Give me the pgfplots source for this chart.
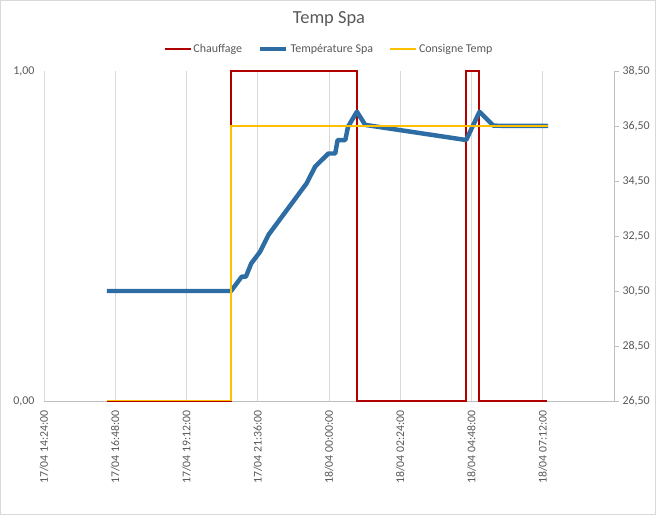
\documentclass[border=0pt]{standalone}
\usepackage{fontspec}
\setmainfont{Carlito}
\usepackage{pgfplots}
\pgfplotsset{compat=1.18}
\definecolor{txt}{HTML}{595959}
\definecolor{gridc}{HTML}{D9D9D9}
\definecolor{axc}{HTML}{BFBFBF}
\definecolor{cred}{HTML}{B00000}
\definecolor{cblue}{HTML}{2E6DA4}
\definecolor{cyel}{HTML}{FFC000}
\begin{document}
\begin{tikzpicture}
\pgfplotsset{
  common/.style={
    width=570bp, height=330bp, scale only axis,
    xmin=14.4, xmax=33.6,
    /pgf/number format/assume math mode=true,
    tick label style={font=\fontsize{12}{14}\selectfont, text=txt},
  }
}
\begin{axis}[common,
  axis x line*=bottom, axis y line*=left,
  x axis line style={draw=axc, line width=0.8pt},
  y axis line style={draw=gridc, line width=0.8pt},
  xtick={14.4,16.8,19.2,21.6,24,26.4,28.8,31.2},
  xticklabels={17/04 14:24:00,17/04 16:48:00,17/04 19:12:00,17/04 21:36:00,18/04 00:00:00,18/04 02:24:00,18/04 04:48:00,18/04 07:12:00},
  x tick label style={rotate=90, anchor=east, font=\fontsize{11.8}{13}\selectfont},
  xticklabel shift=6bp,
  yticklabel shift=6bp,
  xmajorgrids, grid style={draw=gridc, line width=0.8pt},
  major tick length=0pt,
  ymin=0, ymax=1, ytick={0,1}, yticklabels={{0,00},{1,00}},
  title={Temp Spa},
  title style={at={(0.5,1.138)}, anchor=center, yshift=0pt, font=\fontsize{18.5}{22}\selectfont, text=txt},
  legend style={at={(0.5,1.067)}, anchor=center, draw=none, fill=none,
    font=\fontsize{12}{14}\selectfont, text=txt, legend columns=3,
    /tikz/every even column/.append style={column sep=14bp},
    inner sep=0pt},
  legend image code/.code={\draw[#1] (0bp,0bp) -- (26bp,0bp);},
  clip=false,
]
\addplot[cred, line width=2pt] coordinates {
 (16.52,0) (20.70,0) (20.70,1) (24.95,1) (24.95,0) (28.62,0) (28.62,1) (29.06,1) (29.06,0) (31.35,0)};
\addlegendentry{Chauffage}
\addlegendimage{cblue, line width=4.5pt}
\addlegendentry{Température Spa}
\addlegendimage{cyel, line width=2pt}
\addlegendentry{Consigne Temp}
\end{axis}
\begin{axis}[common,
  axis x line=none, axis y line*=right,
  y axis line style={draw=axc, line width=0.8pt},
  ymin=26.5, ymax=38.5, ytick={26.5,28.5,...,38.5},
  tick align=outside, major tick length=5bp,
  tick style={draw=axc, line width=0.8pt},
  yticklabel style={/pgf/number format/.cd, fixed, fixed zerofill, precision=2, use comma},
]
\addplot[cblue, line width=4.5pt, line join=round] coordinates {
 (16.52,30.5) (20.70,30.5) (21.06,31.02) (21.20,31.02) (21.38,31.5) (21.68,31.93)
 (21.96,32.54) (23.25,34.42) (23.53,35.02) (23.98,35.5) (24.21,35.5) (24.29,35.99)
 (24.55,35.99) (24.64,36.47) (24.94,37.02) (25.22,36.54) (28.62,35.99) (29.07,37.02)
 (29.54,36.51) (31.38,36.5)};
\addplot[cyel, line width=2pt] coordinates {
 (16.52,26.5) (20.70,26.5) (20.70,36.5) (31.38,36.5)};
\end{axis}
\draw[gridc, line width=0.8pt] (-43.6bp,-113.6bp) rectangle (611.6bp,400.6bp);
\path[use as bounding box] (-44bp,-114bp) rectangle (612bp,401bp);
\end{tikzpicture}
\end{document}
